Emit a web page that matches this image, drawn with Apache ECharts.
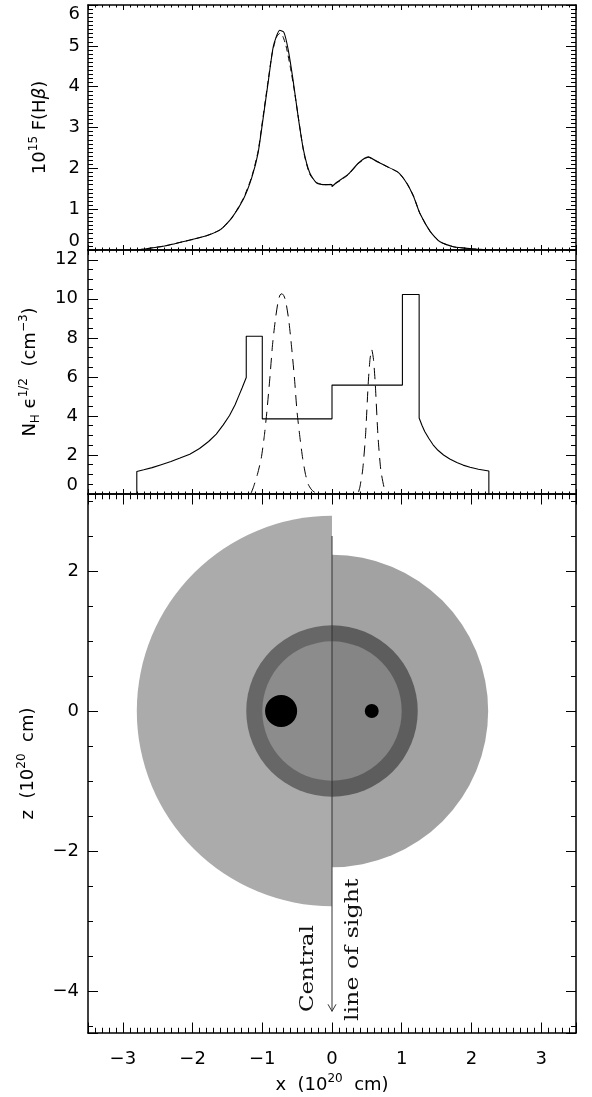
<!DOCTYPE html>
<html>
<head>
<meta charset="utf-8">
<title>H-beta profile and density model</title>
<script src="https://cdn.jsdelivr.net/npm/echarts@6.0.0/dist/echarts.min.js"></script>
<style>
  html, body { margin: 0; padding: 0; background: #fff; }
  #chart { width: 592px; height: 1097px; }
</style>
</head>
<body>
<div id="chart"></div>
<script>
// axis ranges (10^20 cm for x and z)
var xRange = [-3.5, 3.5];
var fluxRange = [0, 6];
var densRange = [0, 12.5];
var zRange = [-4.6, 3.1];
var xStep = 1, fluxStep = 1, densStep = 2, zStep = 2;

// top panel: 10^15 F(Hb) along the slit
var fluxSolidX = [-2.8, -2.4, -2.0, -1.8, -1.6, -1.44, -1.27, -1.15, -1.06, -0.99, -0.91, -0.84, -0.75, -0.69, -0.63, -0.56, -0.48, -0.41, -0.32, -0.22, -0.08, 0.0, 0.0, 0.07, 0.23, 0.38, 0.52, 0.64, 0.78, 0.95, 1.07, 1.17, 1.26, 1.41, 1.55, 1.74, 2.0, 2.25];
var fluxSolidY = [0.0, 0.1, 0.26, 0.35, 0.5, 0.78, 1.25, 1.78, 2.38, 3.2, 4.18, 5.0, 5.38, 5.33, 4.92, 4.18, 3.2, 2.46, 1.89, 1.64, 1.6, 1.6, 1.55, 1.66, 1.85, 2.13, 2.28, 2.17, 2.05, 1.9, 1.64, 1.31, 0.9, 0.45, 0.2, 0.08, 0.03, 0.0];
var fluxDashedX = [-2.8, -2.4, -2.0, -1.8, -1.6, -1.44, -1.27, -1.15, -1.06, -0.99, -0.92, -0.86, -0.80, -0.755, -0.71, -0.66, -0.60, -0.54, -0.47, -0.40, -0.32, -0.22, -0.10, 0.05, 0.23, 0.38, 0.52, 0.64, 0.78, 0.95, 1.07, 1.17, 1.26, 1.41, 1.55, 1.74, 2.0, 2.3];
var fluxDashedY = [0.0, 0.1, 0.26, 0.35, 0.5, 0.78, 1.27, 1.8, 2.42, 3.25, 4.1, 4.8, 5.2, 5.3, 5.25, 5.0, 4.5, 3.9, 3.1, 2.35, 1.86, 1.65, 1.6, 1.63, 1.84, 2.12, 2.27, 2.18, 2.05, 1.9, 1.65, 1.32, 0.9, 0.45, 0.2, 0.08, 0.03, 0.0];

// middle panel: N_H eps^1/2 profile (step model) and the two clumps
var densX = [-2.8, -2.8, -2.7, -2.58, -2.45, -2.31, -2.18, -2.04, -1.9, -1.77, -1.66, -1.56, -1.47, -1.39, -1.34, -1.29, -1.23, -1.23, -1.0, -1.0, 0.0, 0.0, 1.01, 1.01, 1.25, 1.25, 1.29, 1.33, 1.39, 1.45, 1.52, 1.6, 1.69, 1.79, 1.88, 1.98, 2.1, 2.25, 2.25];
var densY = [0, 1.15, 1.24, 1.35, 1.5, 1.66, 1.84, 2.04, 2.33, 2.69, 3.07, 3.54, 4.02, 4.57, 5.0, 5.43, 5.97, 8.08, 8.08, 3.85, 3.85, 5.58, 5.58, 10.22, 10.22, 3.89, 3.52, 3.2, 2.84, 2.52, 2.24, 2.0, 1.79, 1.61, 1.48, 1.37, 1.27, 1.18, 0];
var clumpAX = [-1.16, -1.13, -1.07, -1.015, -0.97, -0.934, -0.89, -0.853, -0.81, -0.772, -0.745, -0.718, -0.69, -0.664, -0.62, -0.583, -0.54, -0.502, -0.46, -0.421, -0.38, -0.34, -0.3, -0.259, -0.2];
var clumpAY = [0.05, 0.32, 1.0, 1.83, 3.0, 4.23, 6.0, 7.65, 9.0, 9.88, 10.2, 10.26, 10.15, 9.88, 8.9, 7.65, 6.0, 4.23, 2.9, 1.83, 1.0, 0.49, 0.25, 0.11, 0.02];
var clumpBX = [0.38, 0.4, 0.44, 0.48, 0.52, 0.545, 0.57, 0.595, 0.62, 0.66, 0.7, 0.75, 0.79];
var clumpBY = [0.1, 0.35, 1.23, 2.94, 5.69, 6.9, 7.4, 6.9, 5.69, 2.94, 1.23, 0.29, 0.05];

// bottom panel: nebula geometry in the x-z plane
var shellSide = [-1, 1, -1, 1, -1, 1];          // left / right half
var shellRadius = [2.8, 2.24, 1.23, 1.23, 1.0, 1.0];
var shellColors = ['#ababab', '#a2a2a2', '#676767', '#5d5d5d', '#8c8c8c', '#858585'];
var cloudX = [-0.73, 0.57];
var cloudZ = [0, 0];
var cloudR = [0.23, 0.1];
var sightX = 0, sightTop = 2.5, sightBottom = -4.29;

var font = '"DejaVu Sans", sans-serif';
var serif = '"DejaVu Serif", serif';

function minus(v) {
    return String(v).replace('-', '\u2212');
}

function pairs(xs, ys) {
    return xs.map(function (x, i) { return [x, ys[i]]; });
}

var rich = {
    n: { fontSize: 18, fontFamily: font, color: '#000', lineHeight: 24, verticalAlign: 'middle' },
    it: { fontSize: 18, fontFamily: font, fontStyle: 'italic', color: '#000', lineHeight: 24, verticalAlign: 'middle' },
    sup: { fontSize: 12, fontFamily: font, color: '#000', lineHeight: 13, verticalAlign: 'top' },
    sub: { fontSize: 12, fontFamily: font, color: '#000', lineHeight: 13, verticalAlign: 'bottom' }
};

function xAx(grid, pos, len, withLabels) {
    var ax = {
        type: 'value', gridIndex: grid, position: pos,
        min: xRange[0], max: xRange[1], minInterval: xStep, maxInterval: xStep,
        axisLine: { onZero: false, lineStyle: { color: '#000', width: 1.5 } },
        axisTick: { inside: true, length: len, lineStyle: { color: '#000', width: 1 } },
        minorTick: { show: true, splitNumber: 10, length: len / 2, lineStyle: { color: '#000', width: 1 } },
        splitLine: { show: false },
        axisLabel: { show: false }
    };
    if (withLabels) {
        ax.axisLabel = {
            show: true, margin: 17, fontSize: 18, fontFamily: font, color: '#000',
            showMinLabel: false, showMaxLabel: false, formatter: minus
        };
        ax.name = '{n|x  (10}{sup|20}{n|  cm)}';
        ax.nameLocation = 'middle';
        ax.nameGap = 40;
        ax.nameTextStyle = { rich: rich };
    }
    return ax;
}

function yAx(grid, pos, range, step, minorSplit, label) {
    var ax = {
        type: 'value', gridIndex: grid, position: pos,
        min: range[0], max: range[1], minInterval: step, maxInterval: step,
        axisLine: { onZero: false, lineStyle: { color: '#000', width: 1.5 } },
        axisTick: { inside: true, length: 10, lineStyle: { color: '#000', width: 1 } },
        minorTick: { show: true, splitNumber: minorSplit, length: 5, lineStyle: { color: '#000', width: 1 } },
        splitLine: { show: false },
        axisLabel: { show: false }
    };
    if (label) {
        ax.axisLabel = {
            show: true, margin: label.margin, fontSize: 18, fontFamily: font, color: '#000',
            formatter: minus
        };
        if (label.alignMin) ax.axisLabel.verticalAlignMinLabel = 'bottom';
        if (label.alignMax) ax.axisLabel.verticalAlignMaxLabel = 'top';
        if (label.hideMax) ax.axisLabel.showMaxLabel = false;
        if (label.hideMin) ax.axisLabel.showMinLabel = false;
        ax.name = label.name;
        ax.nameLocation = 'middle';
        ax.nameRotate = 90;
        ax.nameGap = label.gap;
        ax.nameTextStyle = { rich: rich };
    }
    return ax;
}

function renderShell(params, api) {
    var c = api.coord([0, 0]);
    var r = api.size([api.value(1), 0])[0];
    var start = api.value(0) < 0 ? Math.PI / 2 : -Math.PI / 2;
    return {
        type: 'sector',
        shape: { cx: c[0], cy: c[1], r0: 0, r: r, startAngle: start, endAngle: start + Math.PI, clockwise: true },
        style: { fill: shellColors[params.dataIndex] }
    };
}

function renderCloud(params, api) {
    var c = api.coord([api.value(0), api.value(1)]);
    var r = api.size([api.value(2), 0])[0];
    return { type: 'circle', shape: { cx: c[0], cy: c[1], r: r }, style: { fill: '#000' } };
}

function renderSight(params, api) {
    var top = api.coord([api.value(0), api.value(1)]);
    var tip = api.coord([api.value(0), api.value(2)]);
    var p1 = api.coord([-0.34, -4.30]);
    var p2 = api.coord([0.30, -4.43]);
    return {
        type: 'group',
        children: [
            { type: 'line', shape: { x1: top[0], y1: top[1], x2: tip[0], y2: tip[1] },
              style: { stroke: '#333', lineWidth: 1 } },
            { type: 'polyline', shape: { points: [[tip[0] - 4, tip[1] - 7], tip, [tip[0] + 4, tip[1] - 7]] },
              style: { stroke: '#333', lineWidth: 1, fill: null } },
            { type: 'text', x: p1[0], y: p1[1], rotation: Math.PI / 2, scaleX: 1.27,
              style: { text: 'Central', x: 0, y: 0, align: 'left', verticalAlign: 'middle',
                       fontSize: 18, fontFamily: serif, fill: '#111' } },
            { type: 'text', x: p2[0], y: p2[1], rotation: Math.PI / 2, scaleX: 1.32,
              style: { text: 'line of sight', x: 0, y: 0, align: 'left', verticalAlign: 'middle',
                       fontSize: 18, fontFamily: serif, fill: '#111' } }
        ]
    };
}

var option = {
    animation: false,
    backgroundColor: '#fff',
    textStyle: { fontFamily: font },
    grid: [
        { left: 88, top: 5, width: 488, height: 245 },
        { left: 88, top: 250, width: 488, height: 244 },
        { left: 88, top: 494, width: 488, height: 539 }
    ],
    xAxis: [
        xAx(0, 'bottom', 5, false), xAx(0, 'top', 5, false),
        xAx(1, 'bottom', 5, false), xAx(1, 'top', 5, false),
        xAx(2, 'bottom', 10.5, true), xAx(2, 'top', 10.5, false)
    ],
    yAxis: [
        yAx(0, 'left', fluxRange, fluxStep, 10, {
            margin: 8, alignMin: true, alignMax: true, gap: 36,
            name: '{n|10}{sup|15}{n| F(H}{it|β}{n|)}'
        }),
        yAx(0, 'right', fluxRange, fluxStep, 10, null),
        yAx(1, 'left', densRange, densStep, 4, {
            margin: 10, alignMin: true, hideMax: true, gap: 46,
            name: '{n|N}{sub|H}{n| ϵ}{sup|1/2}{n|  (cm}{sup|−3}{n|)}'
        }),
        yAx(1, 'right', densRange, densStep, 4, null),
        yAx(2, 'left', zRange, zStep, 4, {
            margin: 9, hideMin: true, hideMax: true, gap: 48,
            name: '{n|z  (10}{sup|20}{n|  cm)}'
        }),
        yAx(2, 'right', zRange, zStep, 4, null)
    ],
    series: [
        { type: 'line', xAxisIndex: 0, yAxisIndex: 0, data: pairs(fluxSolidX, fluxSolidY),
          symbol: 'none', silent: true, smooth: 0.2, lineStyle: { color: '#000', width: 1.1 } },
        { type: 'line', xAxisIndex: 0, yAxisIndex: 0, data: pairs(fluxDashedX, fluxDashedY),
          symbol: 'none', silent: true, smooth: 0.2, lineStyle: { color: '#000', width: 1, type: [6, 4] } },
        { type: 'line', xAxisIndex: 2, yAxisIndex: 2, data: pairs(densX, densY),
          symbol: 'none', silent: true, lineStyle: { color: '#000', width: 1.1 } },
        { type: 'line', xAxisIndex: 2, yAxisIndex: 2, data: pairs(clumpAX, clumpAY),
          symbol: 'none', silent: true, smooth: 0.2, lineStyle: { color: '#000', width: 1, type: [11, 7] } },
        { type: 'line', xAxisIndex: 2, yAxisIndex: 2, data: pairs(clumpBX, clumpBY),
          symbol: 'none', silent: true, smooth: 0.2, lineStyle: { color: '#000', width: 1, type: [11, 7] } },
        { type: 'custom', xAxisIndex: 4, yAxisIndex: 4, silent: true, renderItem: renderShell,
          data: pairs(shellSide, shellRadius) },
        { type: 'custom', xAxisIndex: 4, yAxisIndex: 4, silent: true, renderItem: renderCloud,
          data: cloudX.map(function (x, i) { return [x, cloudZ[i], cloudR[i]]; }) },
        { type: 'custom', xAxisIndex: 4, yAxisIndex: 4, silent: true, renderItem: renderSight,
          data: [[sightX, sightTop, sightBottom]] }
    ]
};

var chart = echarts.init(document.getElementById('chart'));
chart.setOption(option);
</script>
</body>
</html>
